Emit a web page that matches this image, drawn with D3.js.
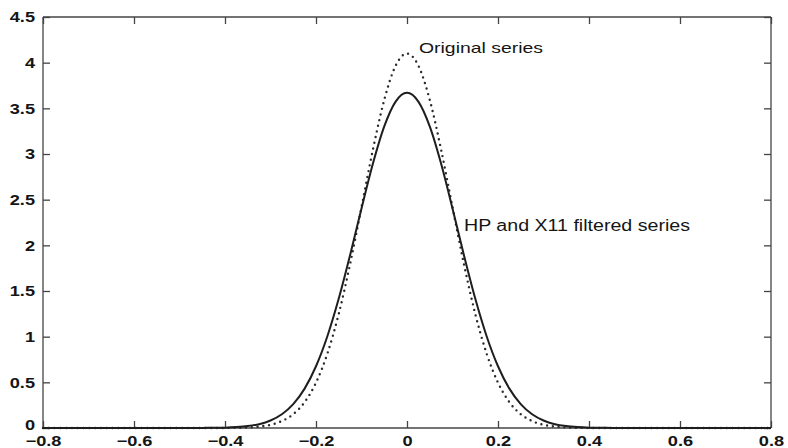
<!DOCTYPE html>
<html>
<head>
<meta charset="utf-8">
<script src="https://cdn.jsdelivr.net/npm/d3@7/dist/d3.min.js"></script>
<style>
  html, body { margin: 0; padding: 0; background: #fff; }
  svg { display: block; }
</style>
</head>
<body>
<svg id="chart" width="788" height="448"></svg>
<script>
// ---- data ----
const xValues = [-0.8, -0.5, -0.45, -0.425, -0.4, -0.375, -0.35, -0.325, -0.3, -0.275, -0.25, -0.225, -0.2, -0.175, -0.15, -0.125, -0.1, -0.075, -0.05, -0.025,
  0, 0.025, 0.05, 0.075, 0.1, 0.125, 0.15, 0.175, 0.2, 0.225, 0.25, 0.275, 0.3, 0.325, 0.35, 0.375, 0.4, 0.425, 0.45, 0.5, 0.8];
const originalSeries = [0, 0, 0, 0, 0.001, 0.002, 0.006, 0.016, 0.035, 0.076, 0.151, 0.283, 0.496, 0.814, 1.25, 1.797, 2.418, 3.046, 3.593, 3.967,
  4.10, 3.967, 3.593, 3.046, 2.418, 1.797, 1.25, 0.814, 0.496, 0.283, 0.151, 0.076, 0.035, 0.016, 0.006, 0.002, 0.001, 0, 0, 0, 0];
const filteredSeries = [0, 0, 0.001, 0.002, 0.004, 0.010, 0.021, 0.042, 0.082, 0.150, 0.261, 0.431, 0.676, 1.005, 1.417, 1.895, 2.404, 2.893, 3.302, 3.574,
  3.67, 3.574, 3.302, 2.893, 2.404, 1.895, 1.417, 1.005, 0.676, 0.431, 0.261, 0.150, 0.082, 0.042, 0.021, 0.010, 0.004, 0.002, 0.001, 0, 0];
const xTicks = [-0.8, -0.6, -0.4, -0.2, 0, 0.2, 0.4, 0.6, 0.8];
const yTicks = [0, 0.5, 1, 1.5, 2, 2.5, 3, 3.5, 4, 4.5];
const labelOriginal = "Original series";
const labelFiltered = "HP and X11 filtered series";

(function () {
// ---- layout ----
const mLeft = 43, mRight = 771, mTop = 17, mBottom = 428;
const font = "'Liberation Sans', Arial, Helvetica, sans-serif";
const svg = d3.select("#chart");
svg.append("rect").attr("width", 788).attr("height", 448).attr("fill", "#fff");

const x = d3.scaleLinear().domain([-0.8, 0.8]).range([mLeft, mRight]);
const y = d3.scaleLinear().domain([0, 4.5]).range([mBottom, mTop]);

const fmt = v => (v < 0 ? "\u2212" : "") + String(Math.abs(v));
const axisColor = "#444";
const tickLen = 7;

// box axes with inward ticks
const gB = svg.append("g").attr("transform", `translate(0,${mBottom})`)
  .call(d3.axisBottom(x).tickValues(xTicks).tickSize(-tickLen).tickFormat(fmt));
const gT = svg.append("g").attr("transform", `translate(0,${mTop})`)
  .call(d3.axisTop(x).tickValues(xTicks).tickSize(-tickLen).tickFormat(""));
const gL = svg.append("g").attr("transform", `translate(${mLeft},0)`)
  .call(d3.axisLeft(y).tickValues(yTicks).tickSize(-tickLen).tickFormat(fmt));
const gR = svg.append("g").attr("transform", `translate(${mRight},0)`)
  .call(d3.axisRight(y).tickValues(yTicks).tickSize(-tickLen).tickFormat(""));

[gB, gT, gL, gR].forEach(g => {
  g.attr("font-family", font).attr("font-size", 14);
  g.select(".domain").attr("stroke", axisColor).attr("stroke-width", 1.3);
  g.selectAll(".tick line").attr("stroke", axisColor).attr("stroke-width", 1.3);
  g.selectAll(".tick text").attr("font-weight", "bold").attr("fill", "#151515");
});
// box style domain lines without end stubs
[gB, gT].forEach(g => g.select(".domain").attr("d", `M${mLeft},0H${mRight}`));
[gL, gR].forEach(g => g.select(".domain").attr("d", `M0,${mTop}V${mBottom}`));

// wide-looking tick labels
function stretch(sel, factor) {
  sel.each(function () {
    const w = this.getComputedTextLength();
    d3.select(this).attr("textLength", w * factor).attr("lengthAdjust", "spacingAndGlyphs");
  });
}
gB.selectAll(".tick text").attr("dy", null).attr("y", 18);
stretch(gB.selectAll(".tick text"), 1.3);
gL.selectAll(".tick text").attr("x", -8).attr("dy", d => d === 0 ? "0.1em" : "0.35em");
stretch(gL.selectAll(".tick text"), 1.3);

// ---- lines ----
const line = d3.line().x((d, i) => x(xValues[i])).y(d => y(d)).curve(d3.curveMonotoneX);

const plot = svg.append("g");
plot.append("path").datum(originalSeries)
  .attr("d", line).attr("fill", "none")
  .attr("stroke", "#2a2a2a").attr("stroke-width", 2.4)
  .attr("stroke-linecap", "round").attr("stroke-dasharray", "0 5.8");
plot.append("path").datum(filteredSeries)
  .attr("d", line).attr("fill", "none")
  .attr("stroke", "#1e1e1e").attr("stroke-width", 2);

// ---- annotations ----
svg.append("text").attr("x", 419).attr("y", 53).attr("font-size", 15)
  .attr("font-family", font).attr("fill", "#151515")
  .attr("textLength", 124).attr("lengthAdjust", "spacingAndGlyphs").text(labelOriginal);
svg.append("text").attr("x", 464).attr("y", 231).attr("font-size", 16)
  .attr("font-family", font).attr("fill", "#151515")
  .attr("textLength", 226).attr("lengthAdjust", "spacingAndGlyphs").text(labelFiltered);
})();
</script>
</body>
</html>
